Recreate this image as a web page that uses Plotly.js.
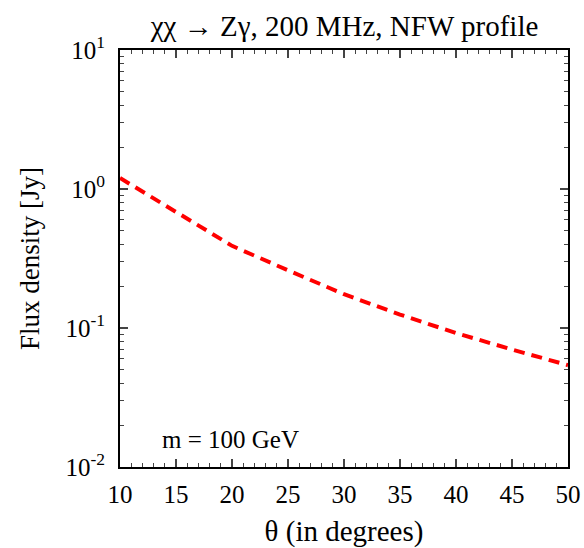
<!DOCTYPE html>
<html>
<head>
<meta charset="utf-8">
<script src="https://cdn.plot.ly/plotly-3.0.1.min.js"></script>
<style>html,body{margin:0;padding:0;background:#fff;}#chart{width:584px;height:548px;}</style>
</head>
<body>
<div id="chart"></div>
<script>
const theta = [10, 15, 20, 25, 30, 35, 40, 45, 50];
const flux = [1.2, 0.68, 0.39, 0.26, 0.175, 0.125, 0.092, 0.07, 0.054];
const xTicks = [10, 15, 20, 25, 30, 35, 40, 45, 50];
const yTickVals = [0.01, 0.1, 1, 10];
const yTickText = ['10<sup>-2</sup>', '10<sup>-1</sup>', '10<sup>0</sup>', '10<sup>1</sup>'];

const yMinor = [];
for (let d = -2; d < 1; d++) for (let k = 2; k <= 9; k++) yMinor.push(k * Math.pow(10, d));

const font = 'Liberation Serif';
Plotly.newPlot('chart', [{
  x: theta, y: flux, type: 'scatter', mode: 'lines',
  line: {color: '#ff0000', width: 4, dash: '11px,7px'}
}], {
  width: 584, height: 548,
  margin: {l: 120, r: 16, t: 50, b: 81},
  paper_bgcolor: '#fff', plot_bgcolor: '#fff',
  showlegend: false,
  font: {family: font, color: '#000', size: 22},
  title: {text: 'χχ → Zγ, 200 MHz, NFW profile', font: {size: 29, family: font, color: '#000'}, x: 0.59, xanchor: 'center', y: 0.972, yanchor: 'top'},
  xaxis: {
    range: [10, 50], tickvals: xTicks, ticks: 'inside', ticklen: 8, tickwidth: 1.5,
    showline: true, linewidth: 2, linecolor: '#000', mirror: 'ticks', showgrid: false, zeroline: false,
    tickfont: {size: 25, family: font, color: '#000'}, ticklabelstandoff: 4,
    minor: {dtick: 1, ticks: 'inside', ticklen: 4, tickwidth: 1.2, showgrid: false},
    title: {text: 'θ (in degrees)', font: {size: 29, family: font, color: '#000'}, standoff: 14}
  },
  yaxis: {
    type: 'log', range: [-2, 1], tickvals: yTickVals, ticktext: yTickText,
    ticks: 'inside', ticklen: 8, tickwidth: 1.5,
    showline: true, linewidth: 2, linecolor: '#000', mirror: 'ticks', showgrid: false, zeroline: false,
    tickfont: {size: 25, family: font, color: '#000'}, ticklabelstandoff: 8,
    minor: {tickvals: yMinor, ticks: 'inside', ticklen: 4, tickwidth: 1.2, showgrid: false},
    title: {text: 'Flux density [Jy]', font: {size: 27, family: font, color: '#000'}, standoff: 18}
  },
  annotations: [{
    text: 'm = 100 GeV', xref: 'paper', yref: 'paper', x: 0.09, y: 0.065,
    xanchor: 'left', yanchor: 'middle', showarrow: false, font: {size: 25, family: font, color: '#000'}
  }]
}, {staticPlot: true});
</script>
</body>
</html>
